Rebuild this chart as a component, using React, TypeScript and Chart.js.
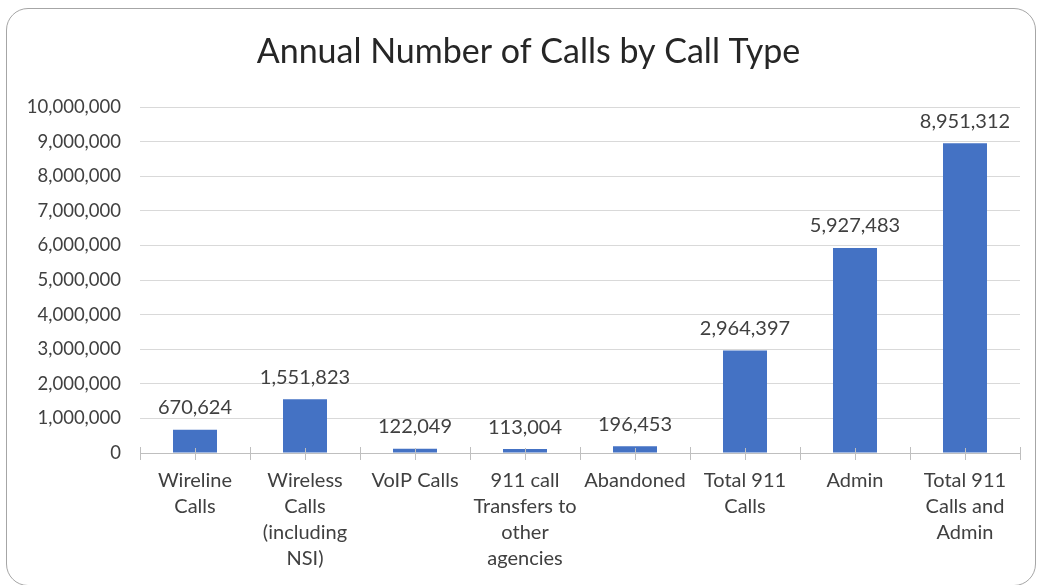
import React, { useEffect, useRef } from "react";
import { Chart, registerables } from "chart.js";

Chart.register(...registerables);

const titleText = "Annual Number of Calls by Call Type";

const categories: string[][] = [
  ["Wireline", "Calls"],
  ["Wireless", "Calls", "(including", "NSI)"],
  ["VoIP Calls"],
  ["911 call", "Transfers to", "other", "agencies"],
  ["Abandoned"],
  ["Total 911", "Calls"],
  ["Admin"],
  ["Total 911", "Calls and", "Admin"],
];

const callCounts: number[] = [670624, 1551823, 122049, 113004, 196453, 2964397, 5927483, 8951312];

const yMin = 0;
const yMax = 10000000;
const yStep = 1000000;

const FONT = "Lato, 'Open Sans', sans-serif";
const fmt = (v: number) => Math.round(v).toLocaleString("en-US");

const titlePlugin = {
  id: "customTitle",
  afterDraw(chart: any) {
    const ctx = chart.ctx;
    ctx.save();
    ctx.font = `34px ${FONT}`;
    ctx.fillStyle = "#262626";
    ctx.textAlign = "center";
    ctx.textBaseline = "middle";
    ctx.fillText(titleText, 528.5, 52);
    ctx.restore();
  },
};

const dataLabelPlugin = {
  id: "dataLabels",
  afterDatasetsDraw(chart: any) {
    const ctx = chart.ctx;
    const meta = chart.getDatasetMeta(0);
    ctx.save();
    ctx.font = `20px ${FONT}`;
    ctx.fillStyle = "#404040";
    ctx.textAlign = "center";
    ctx.textBaseline = "middle";
    meta.data.forEach((el: any, i: number) => {
      const v = chart.data.datasets[0].data[i] as number;
      ctx.fillText(fmt(v), el.x, el.y - 22);
    });
    ctx.restore();
  },
};

const axisTicksPlugin = {
  id: "axisTicks",
  afterDraw(chart: any) {
    const ctx = chart.ctx;
    const x = chart.scales.x;
    const area = chart.chartArea;
    const n = chart.data.labels.length;
    const w = (area.right - area.left) / n;
    const y0 = area.bottom;
    ctx.save();
    ctx.strokeStyle = "#bfbfbf";
    ctx.lineWidth = 1;
    ctx.beginPath();
    for (let i = 0; i <= n; i++) {
      const px = Math.round(area.left + i * w) + 0.5;
      ctx.moveTo(px, y0 - 6);
      ctx.lineTo(px, y0 + 7);
    }
    for (let i = 0; i < n; i++) {
      const px = Math.round(x.getPixelForValue(i)) + 0.5;
      ctx.moveTo(px, y0 - 5);
      ctx.lineTo(px, y0 + 7);
    }
    ctx.stroke();
    ctx.restore();
  },
};

export default function App() {
  const canvasRef = useRef<HTMLCanvasElement | null>(null);

  useEffect(() => {
    if (!canvasRef.current) return;
    const chart = new Chart(canvasRef.current, {
      type: "bar",
      data: {
        labels: categories,
        datasets: [
          {
            data: callCounts,
            backgroundColor: "#4472C4",
            borderWidth: 0,
            categoryPercentage: 1,
            barPercentage: 0.4,
          },
        ],
      },
      options: {
        animation: false,
        responsive: false,
        maintainAspectRatio: false,
        layout: { padding: { left: 0, right: 17, top: 107, bottom: 0 } },
        plugins: {
          legend: { display: false },
          tooltip: { enabled: false },
          title: { display: false },
        },
        scales: {
          x: {
            grid: { display: false, drawTicks: false },
            border: { display: true, color: "#bfbfbf", width: 1 },
            ticks: {
              color: "#404040",
              font: { family: FONT, size: 20, lineHeight: 1.3 },
              padding: 15,
              autoSkip: false,
              maxRotation: 0,
              minRotation: 0,
            },
            afterFit(scale: any) {
              scale.height = 132;
            },
          },
          y: {
            min: yMin,
            max: yMax,
            grid: { color: "#d9d9d9", drawTicks: false, lineWidth: 1 },
            border: { display: false },
            ticks: {
              stepSize: yStep,
              color: "#404040",
              font: { family: FONT, size: 18.5 },
              padding: 19,
              callback: (v: any) => fmt(Number(v)),
            },
            afterFit(scale: any) {
              scale.width = 140;
            },
          },
        },
      },
      plugins: [dataLabelPlugin, axisTicksPlugin, titlePlugin],
    });
    return () => chart.destroy();
  }, []);

  return (
    <div
      style={{
        position: "fixed",
        left: 0,
        top: 0,
        width: 1037,
        height: 585,
        background: "#ffffff",
        overflow: "hidden",
      }}
    >
      <div
        style={{
          position: "absolute",
          left: 6,
          top: 8,
          width: 1030,
          height: 578,
          boxSizing: "border-box",
          border: "1.5px solid #a6a6a6",
          borderRadius: 22,
        }}
      />
      <canvas
        ref={canvasRef}
        width={1037}
        height={585}
        style={{ position: "absolute", left: 0, top: 0, width: 1037, height: 585 }}
      />
    </div>
  );
}
